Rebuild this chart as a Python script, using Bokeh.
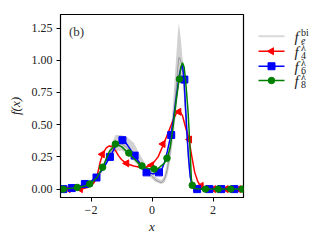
import numpy as np
from bokeh.plotting import figure
from bokeh.models import Range1d, FixedTicker, PrintfTickFormatter, Label
from bokeh.layouts import row
from bokeh.embed import file_html
from bokeh.resources import INLINE
from bokeh.core.properties import value

# ---------------- data ----------------
# ensemble f_e^bi : envelope (lower / upper) and centre line
gray_x = [-3.0, -2.5, -2.2, -2.0, -1.8, -1.6, -1.4, -1.2, -1.0, -0.8, -0.6, -0.4, -0.2, 0.0, 0.1, 0.2,
          0.3, 0.4, 0.5, 0.6, 0.7, 0.8, 0.85, 0.88, 0.9, 0.95, 1.0, 1.05, 1.1, 1.2, 1.3, 1.4, 1.6, 3.0]
gray_lo = [0.0, 0.0, 0.01, 0.03, 0.07, 0.14, 0.23, 0.29, 0.30, 0.27, 0.22, 0.17, 0.12, 0.08, 0.06, 0.05,
           0.04, 0.05, 0.10, 0.22, 0.40, 0.62, 0.75, 0.82, 0.85, 0.88, 0.85, 0.70, 0.48, 0.15, 0.03, 0.0, 0.0, 0.0]
gray_hi = [0.0, 0.01, 0.03, 0.05, 0.10, 0.19, 0.31, 0.42, 0.42, 0.40, 0.36, 0.27, 0.19, 0.13, 0.10, 0.08,
           0.07, 0.10, 0.22, 0.40, 0.70, 1.05, 1.22, 1.29, 1.25, 1.15, 1.02, 0.90, 0.70, 0.30, 0.08, 0.02, 0.0, 0.0]
gray_mid = [0.0, 0.005, 0.02, 0.04, 0.085, 0.165, 0.27, 0.34, 0.35, 0.32, 0.27, 0.21, 0.15, 0.10, 0.075, 0.06,
            0.05, 0.07, 0.15, 0.30, 0.52, 0.80, 0.95, 1.02, 1.02, 0.99, 0.93, 0.80, 0.58, 0.22, 0.05, 0.01, 0.0, 0.0]

# f_4^lambda (red)
f4_x = [-3.0, -2.6, -2.3, -2.1, -2.0, -1.9, -1.8, -1.7, -1.6, -1.5, -1.4, -1.3, -1.2, -1.1, -1.0, -0.9, -0.8,
        -0.6, -0.4, -0.2, 0.0, 0.2, 0.4, 0.5, 0.6, 0.7, 0.8, 0.9, 1.0, 1.1, 1.2, 1.3, 1.4, 1.5, 1.6, 1.7, 1.8, 2.0, 3.0]
f4_y = [0.0, 0.0, 0.0, 0.015, 0.03, 0.05, 0.10, 0.21, 0.28, 0.32, 0.335, 0.33, 0.30, 0.26, 0.23, 0.21, 0.195,
        0.18, 0.17, 0.17, 0.19, 0.25, 0.36, 0.42, 0.48, 0.54, 0.59, 0.61, 0.57, 0.48, 0.40, 0.26, 0.13, 0.06, 0.02, 0.005, 0.0, 0.0, 0.0]
f4_mx = [-2.75, -2.35, -1.63, -0.83, -0.02, 0.36, 0.88, 1.23, 1.61, 2.02, 2.43, 2.84]
f4_my = [0.0, 0.0, 0.27, 0.20, 0.185, 0.35, 0.60, 0.385, 0.025, 0.0, 0.0, 0.0]

# f_6^lambda (blue)
f6_x = [-3.0, -2.6, -2.4, -2.2, -2.0, -1.8, -1.6, -1.4, -1.2, -1.0, -0.9, -0.8, -0.6, -0.4, -0.2, 0.0, 0.2,
        0.3, 0.4, 0.5, 0.6, 0.7, 0.8, 0.9, 0.95, 1.0, 1.05, 1.1, 1.15, 1.2, 1.25, 1.3, 1.4, 1.5, 3.0]
f6_y = [0.0, 0.008, 0.02, 0.04, 0.06, 0.10, 0.16, 0.24, 0.33, 0.375, 0.37, 0.34, 0.27, 0.20, 0.14, 0.12, 0.12,
        0.14, 0.20, 0.29, 0.40, 0.54, 0.72, 0.89, 0.94, 0.96, 0.86, 0.64, 0.42, 0.24, 0.10, 0.04, 0.005, 0.0, 0.0]
f6_mx = [-2.91, -2.63, -2.20, -1.82, -1.38, -0.97, -0.57, -0.18, 0.23, 0.63, 1.06, 1.48, 1.88, 2.27, 2.70]
f6_my = [0.0, 0.008, 0.04, 0.09, 0.25, 0.38, 0.26, 0.13, 0.13, 0.42, 0.85, 0.0, 0.0, 0.0, 0.0]

# f_8^lambda (green)
f8_x = [-3.0, -2.6, -2.4, -2.2, -2.0, -1.8, -1.6, -1.4, -1.2, -1.0, -0.8, -0.6, -0.4, -0.2, 0.0, 0.1, 0.2,
        0.3, 0.4, 0.5, 0.6, 0.7, 0.8, 0.9, 0.95, 1.0, 1.05, 1.1, 1.18, 1.24, 1.29, 1.33, 1.4, 1.6, 3.0]
f8_y = [0.0, 0.008, 0.015, 0.025, 0.045, 0.09, 0.18, 0.29, 0.35, 0.33, 0.285, 0.24, 0.19, 0.165, 0.155, 0.155, 0.16,
        0.18, 0.20, 0.24, 0.33, 0.50, 0.70, 0.87, 0.95, 0.98, 0.95, 0.85, 0.61, 0.35, 0.08, 0.02, 0.005, 0.0, 0.0]
f8_mx = [-2.91, -2.45, -2.04, -1.62, -1.20, -0.76, -0.33, 0.07, 0.49, 0.90, 1.32, 1.75, 2.17, 2.58, 2.96]
f8_my = [0.0, 0.013, 0.04, 0.17, 0.35, 0.28, 0.18, 0.156, 0.24, 0.854, 0.03, 0.0, 0.0, 0.0, 0.0]

x_ticks = [-2, 0, 2]
x_tick_labels = ["\u22122", "0", "2"]
y_ticks = [0.0, 0.25, 0.5, 0.75, 1.0, 1.25]

FONT = "Liberation Serif"
RED, BLUE, GREEN = "#ff0000", "#0000ff", "#008000"

# ---------------- main plot ----------------
p = figure(width=248, height=244, x_range=Range1d(-3, 3), y_range=Range1d(-0.065, 1.355),
           output_backend="svg", toolbar_location=None,
           min_border_left=60, min_border_right=5, min_border_top=14, min_border_bottom=47)
p.grid.visible = False
p.outline_line_color = "black"
p.outline_line_width = 1.2
p.background_fill_color = "white"

p.varea(x=gray_x, y1=gray_lo, y2=gray_hi, fill_color="#999999", fill_alpha=0.45)
p.line(gray_x, gray_mid, line_color="#8a8a8a", line_width=1.0, line_alpha=0.8)

p.line(f4_x, f4_y, line_color=RED, line_width=1.5)
p.scatter(f4_mx, f4_my, marker="triangle", angle=np.pi / 2, size=7, color=RED)
p.line(f6_x, f6_y, line_color=BLUE, line_width=1.5)
p.scatter(f6_mx, f6_my, marker="square", size=7, color=BLUE)
p.line(f8_x, f8_y, line_color=GREEN, line_width=1.5)
p.scatter(f8_mx, f8_my, marker="circle", size=6.5, color=GREEN)

p.xaxis.ticker = FixedTicker(ticks=x_ticks)
p.xaxis.major_label_overrides = dict(zip(x_ticks, x_tick_labels))
p.yaxis.ticker = FixedTicker(ticks=y_ticks)
p.yaxis.formatter = PrintfTickFormatter(format="%.2f")
for ax in (p.xaxis[0], p.yaxis[0]):
    ax.major_tick_out = 4
    ax.major_tick_in = 0
    ax.minor_tick_out = 0
    ax.minor_tick_in = 0
    ax.axis_line_color = "black"
    ax.major_tick_line_color = "black"
    ax.major_label_text_font = FONT
    ax.major_label_text_font_size = "12px"
    ax.major_label_text_color = "#222222"
    ax.axis_label_text_font = FONT
    ax.axis_label_text_font_size = "13px"
    ax.axis_label_text_font_style = "italic"
    ax.axis_label_text_color = "#222222"
    ax.major_label_standoff = 4
p.xaxis.axis_label = "x"
p.yaxis.axis_label = "f(x)"
p.xaxis.axis_label_standoff = 2
p.yaxis.axis_label_standoff = 6

p.add_layout(Label(x=-2.72, y=1.22, text="(b)", text_font=FONT, text_font_size="13px",
                   text_color="#333333", text_baseline="middle", text_align="left"))

# ---------------- legend panel ----------------
lg = figure(width=77, height=244, x_range=Range1d(0, 77), y_range=Range1d(244, 0),
            output_backend="svg", toolbar_location=None, min_border=0)
lg.axis.visible = False
lg.grid.visible = False
lg.outline_line_color = None

rows_y = [29, 49, 69, 88]
lg.line([10, 36], [rows_y[0], rows_y[0]], line_color="#d9d9d9", line_width=2)
lg.line([10, 36], [rows_y[1], rows_y[1]], line_color=RED, line_width=1.5)
lg.scatter([23], [rows_y[1]], marker="triangle", angle=np.pi / 2, size=7, color=RED)
lg.line([10, 36], [rows_y[2], rows_y[2]], line_color=BLUE, line_width=1.5)
lg.scatter([23], [rows_y[2]], marker="square", size=7, color=BLUE)
lg.line([10, 36], [rows_y[3], rows_y[3]], line_color=GREEN, line_width=1.5)
lg.scatter([23], [rows_y[3]], marker="circle", size=6.5, color=GREEN)

subs = ["e", "4", "6", "8"]
sups = ["bi", "\u03bb", "\u03bb", "\u03bb"]
for yy, sb, sp in zip(rows_y, subs, sups):
    lg.text([46], [yy + 1], text=["f"], text_font=value(FONT), text_font_style="italic",
            text_font_size="15px", text_baseline="middle", text_color="#222222")
    lg.text([52.5], [yy + 5], text=[sb], text_font=value(FONT),
            text_font_style="italic" if sb == "e" else "normal",
            text_font_size="10px", text_baseline="middle", text_color="#222222")
    lg.text([52.5], [yy - 5], text=[sp], text_font=value(FONT), text_font_size="10px",
            text_baseline="middle", text_color="#222222")

layout = row(p, lg)
open("out.html", "w").write(file_html(layout, INLINE))
